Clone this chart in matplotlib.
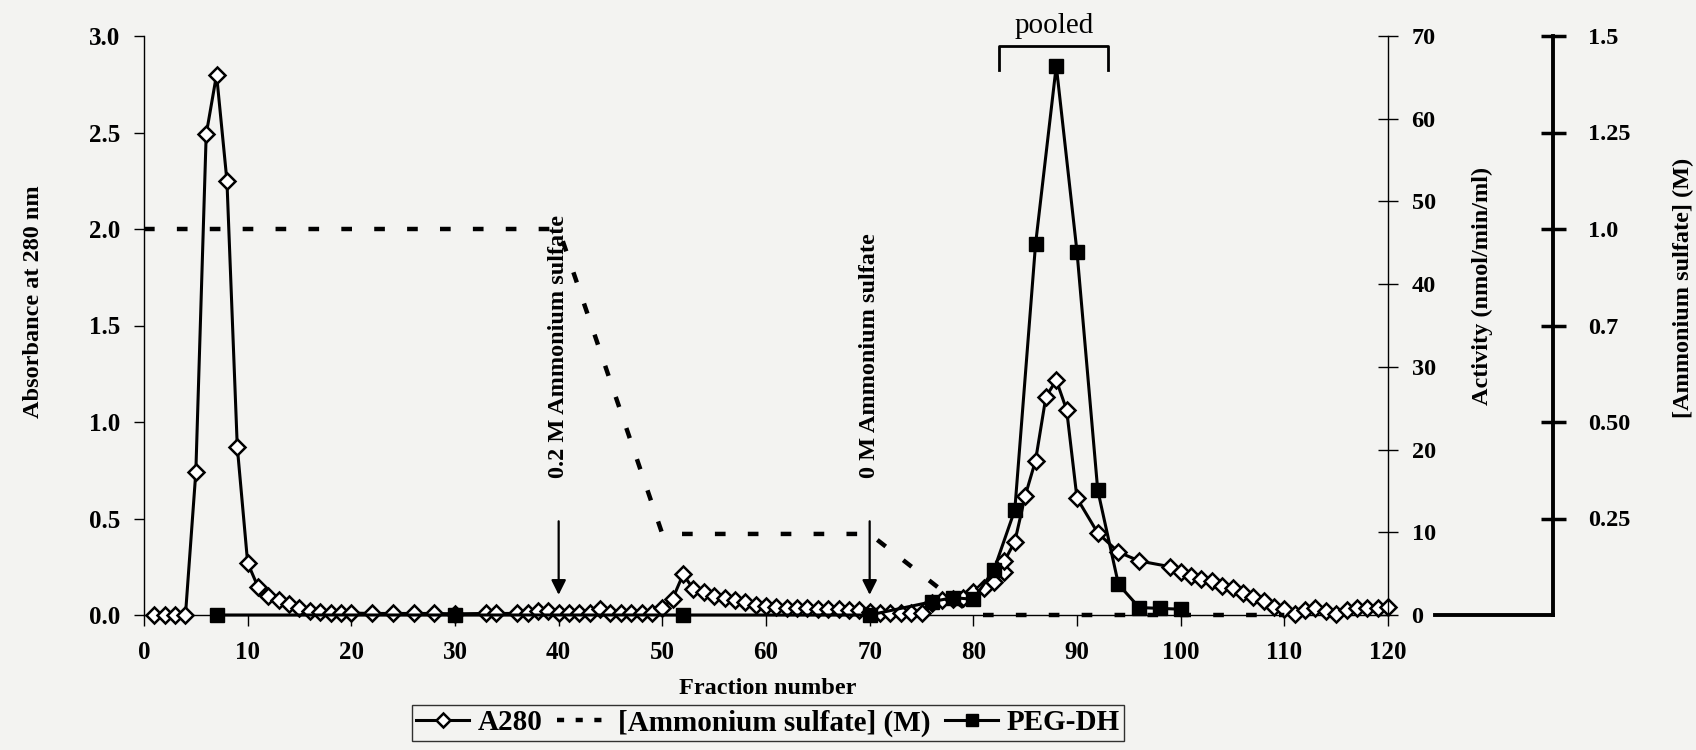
import matplotlib
matplotlib.use('Agg')
import matplotlib.pyplot as plt
from matplotlib.lines import Line2D
import numpy as np

plt.rcParams['font.family'] = ['Liberation Serif', 'DejaVu Serif']
plt.rcParams['font.weight'] = 'bold'
plt.rcParams['axes.labelweight'] = 'bold'
plt.rcParams['font.size'] = 17.5

# A280 profile (fraction number, absorbance)
frac_a280 = [1, 2, 3, 4, 5, 6, 7, 8, 9, 10, 11, 12, 13, 14, 15, 16, 17, 18, 19, 20,
             22, 24, 26, 28, 30, 33, 34, 36, 37, 38, 39, 40, 41, 42, 43, 44, 45, 46,
             47, 48, 49, 50, 51, 52, 53, 54, 55, 56, 57, 58, 59, 60, 61, 62, 63, 64,
             65, 66, 67, 68, 69, 70, 71, 72, 73, 74, 75, 76, 77, 78, 79, 80, 81, 82,
             83, 83, 84, 85, 86, 87, 88, 89, 90, 92, 94, 96, 99, 100, 101, 102, 103,
             104, 105, 106, 107, 108, 109, 110, 111, 112, 113, 114, 115, 116, 117,
             118, 119, 120]
a280 = [0, 0, 0, 0, 0.74, 2.49, 2.80, 2.25, 0.87, 0.27, 0.145, 0.10, 0.08, 0.057,
        0.035, 0.023, 0.017, 0.012, 0.01, 0.01,
        0.008, 0.008, 0.008, 0.008, 0.006, 0.008, 0.008, 0.008, 0.01, 0.02, 0.02,
        0.01, 0.008, 0.008, 0.01, 0.03, 0.008, 0.008,
        0.008, 0.008, 0.01, 0.035, 0.085, 0.21, 0.135, 0.12, 0.10, 0.087, 0.078,
        0.066, 0.052, 0.047, 0.04, 0.037, 0.035, 0.034,
        0.03, 0.03, 0.03, 0.028, 0.025, 0.015, 0.012, 0.008, 0.008, 0.008, 0.01,
        0.06, 0.08, 0.085, 0.087, 0.12, 0.14, 0.17,
        0.225, 0.28, 0.38, 0.617, 0.80, 1.13, 1.217, 1.063, 0.605, 0.425, 0.326,
        0.28, 0.25, 0.225, 0.203, 0.186, 0.177,
        0.151, 0.139, 0.113, 0.095, 0.074, 0.04, 0.03, 0.005, 0.026, 0.035, 0.021,
        0.005, 0.026, 0.035,
        0.035, 0.035, 0.04]

# PEG-DH activity (nmol/min/ml)
frac_act = [7, 30, 52, 70, 76, 78, 80, 82, 84, 86, 88, 90, 92, 94, 96, 98, 100]
activity = [0, 0, 0, 0, 1.6, 2.1, 1.9, 5.5, 12.7, 44.8, 66.4, 43.9, 15.1, 3.7,
            0.9, 0.8, 0.7]

# ammonium sulfate gradient (M)
frac_salt = [0, 40, 50, 70, 80, 110]
salt = [1.0, 1.0, 0.21, 0.21, 0.0, 0.0]

salt_ticks = [0.25, 0.5, 0.75, 1.0, 1.25, 1.5]
salt_labels = ['0.25', '0.50', '0.7', '1.0', '1.25', '1.5']

bg = '#f3f3f1'
fig = plt.figure(figsize=(16.96, 7.5), dpi=100, facecolor=bg)
ax = fig.add_axes([0.0849, 0.18, 0.7335, 0.772])
ax.set_facecolor('none')
ax2 = ax.twinx()
ax3 = ax.twinx()

l1, = ax.plot(frac_a280, a280, '-', color='k', lw=2.2, marker='D', ms=8.5,
              mfc='white', mec='k', mew=1.8, clip_on=False, zorder=3)
l3, = ax2.plot(frac_act, activity, '-', color='k', lw=2.2, marker='s', ms=10,
               mfc='k', mec='k', clip_on=False, zorder=4)
ax3.plot(frac_salt, salt, color='k', lw=3.2, dashes=(2.4, 5.0),
         clip_on=False, zorder=2)
# shorter dash pattern for the legend key
l2 = Line2D([], [], color='k', lw=3.2, dashes=(1.6, 2.6))

ax.set_xlim(0, 120)
ax.set_ylim(0, 3.0)
ax2.set_ylim(0, 70)
ax3.set_ylim(0, 1.5)

ax.set_xticks(np.arange(0, 121, 10))
ax.set_yticks(np.arange(0, 3.01, 0.5))
ax.set_yticklabels(['%.1f' % v for v in np.arange(0, 3.01, 0.5)], fontsize=18)
ax.set_xticklabels([str(v) for v in range(0, 121, 10)], fontsize=18)
ax2.set_yticks(np.arange(0, 71, 10))
ax3.set_yticks(salt_ticks)
ax3.set_yticklabels(salt_labels)

for s in ['top', 'right']:
    ax.spines[s].set_visible(False)
for s in ['top', 'left', 'bottom']:
    ax2.spines[s].set_visible(False)
    ax3.spines[s].set_visible(False)
ax.spines['left'].set_linewidth(1.0)
ax.spines['bottom'].set_linewidth(1.0)
ax2.spines['right'].set_linewidth(1.0)
ax3.spines['right'].set_position(('axes', 1.1327))
ax3.spines['right'].set_linewidth(2.8)

ax.tick_params(axis='x', direction='out', length=8, width=1, pad=11)
ax.tick_params(axis='y', direction='out', length=7, width=1, pad=10)
ax2.tick_params(axis='y', direction='inout', length=14, width=1, pad=10)
ax3.tick_params(axis='y', direction='inout', length=18, width=2.5, pad=16)

# baseline joining the activity zero to the salt axis
ax3.add_line(Line2D([1.0378, 1.1327], [0, 0], transform=ax3.transAxes,
                    color='k', lw=2.8, clip_on=False))

# axis titles
fig.text(768 / 1696, 1 - 689 / 750, 'Fraction number', ha='center', va='center')
fig.text(34 / 1696, 1 - 302 / 750, 'Absorbance at 280 nm', rotation=90,
         ha='center', va='center')
fig.text(1482 / 1696, 1 - 286 / 750, 'Activity (nmol/min/ml)', rotation=90,
         ha='center', va='center')
fig.text(1683 / 1696, 1 - 288 / 750, '[Ammonium sulfate] (M)', rotation=90,
         ha='center', va='center')

# step markers for the gradient
for xf, txt in [(40, '0.2 M Ammonium sulfate'), (70, '0 M Ammonium sulfate')]:
    ax.annotate('', xy=(xf, 0.09), xytext=(xf, 0.5),
                arrowprops=dict(arrowstyle='-|>', lw=1.6, color='k',
                                mutation_scale=22))
    ax.text(xf, 0.71, txt, rotation=90, ha='center', va='bottom')

# pooled fractions
ax2.plot([82.5, 82.5, 93, 93], [65.9, 68.8, 68.8, 65.9], color='k', lw=2,
         clip_on=False)
ax2.text(87.8, 71.2, 'pooled', ha='center', va='center', fontweight='normal',
         fontsize=21)

leg = fig.legend([l1, l2, l3], ['A280', '[Ammonium sulfate] (M)', 'PEG-DH'],
                 loc='upper center', bbox_to_anchor=(768 / 1696, 1 - 705 / 750),
                 ncol=3, frameon=True, fancybox=False, borderaxespad=0,
                 handlelength=1.8, columnspacing=0.5, handletextpad=0.3,
                 borderpad=0.15, facecolor=bg, fontsize=21, markerscale=0.8)
leg.get_frame().set_edgecolor('k')
leg.get_frame().set_linewidth(1.0)

plt.savefig('out.png', dpi=100, facecolor=bg)
